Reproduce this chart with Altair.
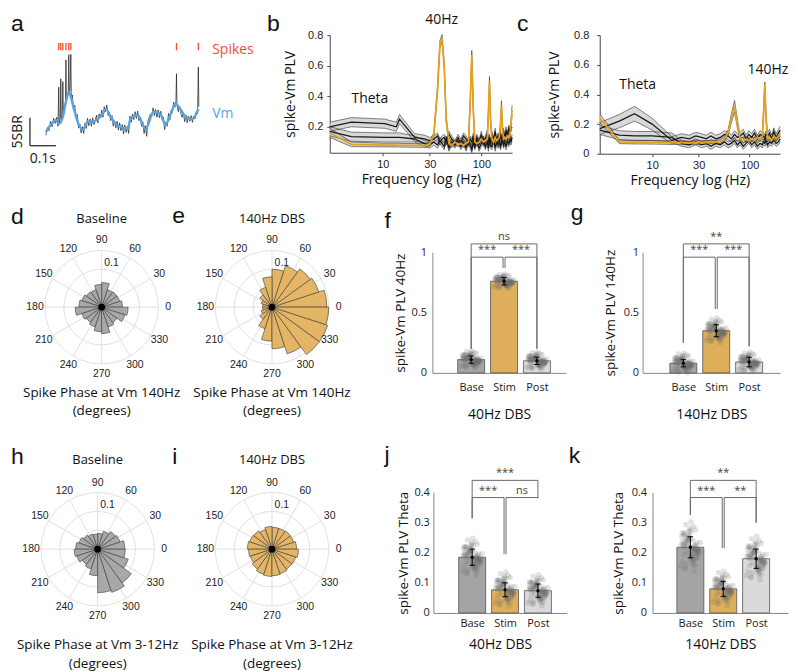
import altair as alt
import numpy as np
import pandas as pd

FT = "Open Sans"
FN = "Liberation Sans"
BLACK = "#1a1a1a"
BLUE = "#5aa2dc"
RED = "#f04e2e"
ORANGE = "#e9a11b"
GOLD = "#dfae5a"
GOLD_P = "#e3b565"
GRAY_P = "#a8a8a8"
BASE_C = "#a4a4a4"
POST_C = "#dadada"
BAND = "#c8c8c8"
GRID = "#dcdcdc"

# ---------------- panel a : example trace ----------------
vm_t = [0, 0.019, 0.039, 0.05, 0.066, 0.078, 0.089, 0.097, 0.109, 0.128,
        0.143, 0.163, 0.182, 0.202, 0.221, 0.233, 0.252, 0.271, 0.291, 0.318,
        0.329, 0.357, 0.388, 0.419, 0.446, 0.465, 0.484, 0.504, 0.523, 0.543,
        0.57, 0.593]
vm_v = [0, 1.25, 2.1, 1.4, 2.7, 5.4, 7.1, 6.25, 4.1, 1.25,
        0.36, 1.8, 1.8, 2.3, 3.2, 4.1, 2.7, 1.4, 0.9, 0.5,
        2.3, 3.0, 0.5, 3.6, 3.2, 1.25, 3.0, 5.0, 4.1, 2.7,
        2.3, 4.1]
raw_t = [0.000, 0.006, 0.012, 0.018, 0.024, 0.030, 0.036, 0.042, 0.047, 0.050,
         0.052, 0.056, 0.058, 0.060, 0.064, 0.066, 0.068, 0.072, 0.076, 0.078,
         0.080, 0.084, 0.087, 0.089, 0.091, 0.094, 0.097, 0.099, 0.103, 0.107,
         0.112, 0.117, 0.122, 0.127, 0.132, 0.137, 0.142, 0.147, 0.152, 0.157,
         0.162, 0.167, 0.172, 0.177, 0.182, 0.187, 0.192, 0.197, 0.202, 0.207,
         0.212, 0.217, 0.222, 0.227, 0.232, 0.237, 0.242, 0.247, 0.252, 0.257,
         0.262, 0.267, 0.272, 0.277, 0.282, 0.287, 0.292, 0.297, 0.302, 0.307,
         0.312, 0.317, 0.322, 0.327, 0.332, 0.337, 0.342, 0.347, 0.352, 0.357,
         0.362, 0.367, 0.372, 0.377, 0.382, 0.387, 0.392, 0.397, 0.402, 0.407,
         0.412, 0.417, 0.422, 0.427, 0.432, 0.437, 0.442, 0.447, 0.452, 0.457,
         0.462, 0.467, 0.472, 0.477, 0.482, 0.487, 0.492, 0.497, 0.502, 0.506,
         0.508, 0.510, 0.515, 0.520, 0.525, 0.530, 0.535, 0.540, 0.545, 0.550,
         0.555, 0.560, 0.565, 0.570, 0.575, 0.580, 0.585, 0.590, 0.593, 0.595]
raw_v = [-0.6, 0.8, 0.2, 1.9, 0.9, 2.4, 1.5, 2.6, 1.0, 8.0,
         1.6, 2.2, 9.5, 2.4, 3.0, 9.0, 3.3, 4.6, 5.2, 12.9,
         5.6, 6.4, 7.0, 13.8, 6.8, 7.6, 13.9, 5.9, 6.6, 4.0,
         4.8, 2.6, 3.1, 0.7, 1.4, -0.2, 0.9, -0.3, 1.5, 0.6,
         2.4, 1.1, 2.3, 1.0, 2.5, 1.3, 2.0, 3.0, 1.6, 3.2,
         2.5, 3.9, 2.6, 4.5, 3.6, 4.8, 2.9, 3.5, 2.0, 2.9,
         1.0, 2.0, 0.7, 1.9, 0.3, 1.6, 0.2, 1.3, -0.4, 1.2,
         -0.1, 1.0, -0.3, 2.8, 1.7, 3.2, 2.2, 3.6, 2.4, 3.7,
         2.0, 2.6, 1.0, 1.8, -0.3, 1.1, -0.8, 1.9, 2.6, 3.2,
         2.8, 4.3, 2.9, 4.0, 2.6, 3.9, 2.5, 3.7, 2.2, 2.6,
         0.4, 1.8, 1.0, 3.3, 2.1, 3.8, 3.5, 5.3, 4.4, 5.6,
         10.4, 4.8, 3.6, 4.6, 3.3, 2.6, 3.4, 1.8, 3.0, 1.6,
         2.8, 1.9, 2.9, 1.7, 2.8, 2.3, 3.6, 3.2, 11.6, 4.5]
spike_t = [0.05, 0.058, 0.066, 0.078, 0.089, 0.097, 0.508, 0.593]

# ---------------- panel b : 40Hz DBS spectrum ----------------
b_freq = [2.9, 4.8, 10.5, 13.7, 14.8, 21, 26.5, 30, 33, 36,
          38, 40, 42, 44, 47, 50, 54, 58, 62, 66,
          70, 74, 77, 80, 83, 86, 90, 95, 100, 105,
          110, 115, 118, 121, 124, 128, 133, 138, 143, 148,
          152, 156, 160, 164, 168, 173, 178, 184, 190, 196,
          200, 205]
b_stim = [0.16, 0.085, 0.08, 0.08, 0.079, 0.078, 0.077, 0.085, 0.15, 0.45,
          0.74, 0.78, 0.6, 0.25, 0.09, 0.08, 0.1, 0.085, 0.09, 0.08,
          0.09, 0.1, 0.35, 0.67, 0.3, 0.1, 0.09, 0.1, 0.12, 0.1,
          0.11, 0.12, 0.3, 0.5, 0.25, 0.12, 0.1, 0.13, 0.11, 0.12,
          0.13, 0.2, 0.34, 0.18, 0.12, 0.13, 0.12, 0.14, 0.13, 0.15,
          0.22, 0.31]
b_stim_hw = [0.03, 0.015, 0.012, 0.012, 0.012, 0.012, 0.012, 0.012, 0.015, 0.02,
             0.025, 0.025, 0.02, 0.02, 0.015, 0.015, 0.015, 0.015, 0.015, 0.015,
             0.015, 0.015, 0.02, 0.03, 0.02, 0.015, 0.015, 0.015, 0.015, 0.015,
             0.015, 0.015, 0.02, 0.03, 0.02, 0.015, 0.015, 0.015, 0.015, 0.015,
             0.015, 0.02, 0.03, 0.02, 0.015, 0.015, 0.015, 0.015, 0.015, 0.015,
             0.02, 0.03]
b_base = [0.2, 0.23, 0.22, 0.2, 0.25, 0.13, 0.12, 0.11, 0.12, 0.14,
          0.1, 0.12, 0.13, 0.1, 0.15, 0.12, 0.09, 0.13, 0.1, 0.14,
          0.12, 0.09, 0.12, 0.1, 0.14, 0.08, 0.13, 0.1, 0.15, 0.09,
          0.12, 0.16, 0.1, 0.13, 0.09, 0.15, 0.11, 0.17, 0.1, 0.14,
          0.12, 0.16, 0.1, 0.15, 0.17, 0.12, 0.18, 0.14, 0.19, 0.17,
          0.19, 0.2]
b_base_hw = [0.03] * 5 + [0.025] * 2 + [0.02] * 45
b_post = [0.17, 0.135, 0.13, 0.13, 0.13, 0.12, 0.09, 0.08, 0.1, 0.08,
          0.11, 0.09, 0.07, 0.12, 0.06, 0.1, 0.08, 0.11, 0.07, 0.1,
          0.06, 0.11, 0.08, 0.05, 0.1, 0.07, 0.11, 0.06, 0.09, 0.12,
          0.07, 0.1, 0.06, 0.11, 0.08, 0.07, 0.12, 0.06, 0.1, 0.08,
          0.11, 0.07, 0.09, 0.12, 0.08, 0.1, 0.07, 0.11, 0.09, 0.12,
          0.1, 0.13]
b_post_hw = [0.03] * 5 + [0.02] * 47

# ---------------- panel c : 140Hz DBS spectrum ----------------
c_freq = [2.9, 4.6, 6.6, 10, 15.9, 20, 24, 28, 32, 36,
          40, 45, 50, 55, 60, 65, 70, 75, 80, 86,
          92, 98, 105, 112, 120, 128, 135, 139, 143, 147,
          153, 160, 168, 177, 187, 197, 206]
c_stim = [0.24, 0.08, 0.078, 0.077, 0.075, 0.075, 0.072, 0.074, 0.076, 0.075,
          0.08, 0.078, 0.085, 0.1, 0.14, 0.24, 0.32, 0.2, 0.1, 0.09,
          0.1, 0.085, 0.1, 0.09, 0.11, 0.1, 0.12, 0.28, 0.47, 0.25,
          0.1, 0.11, 0.09, 0.12, 0.1, 0.12, 0.13]
c_stim_hw = [0.03, 0.012, 0.012, 0.012, 0.012, 0.012, 0.012, 0.012, 0.012, 0.012,
             0.012, 0.012, 0.015, 0.015, 0.02, 0.03, 0.04, 0.03, 0.015, 0.015,
             0.015, 0.015, 0.015, 0.015, 0.015, 0.015, 0.015, 0.03, 0.015, 0.03,
             0.015, 0.015, 0.015, 0.015, 0.015, 0.015, 0.015]
c_base = [0.17, 0.22, 0.27, 0.2, 0.09, 0.11, 0.1, 0.12, 0.11, 0.1,
          0.12, 0.1, 0.11, 0.13, 0.12, 0.1, 0.13, 0.11, 0.12, 0.14,
          0.1, 0.13, 0.11, 0.14, 0.1, 0.13, 0.12, 0.12, 0.1, 0.13,
          0.12, 0.14, 0.1, 0.15, 0.11, 0.14, 0.16]
c_base_hw = [0.04, 0.045, 0.05, 0.04] + [0.025] * 33
c_post = [0.16, 0.125, 0.12, 0.12, 0.11, 0.07, 0.06, 0.08, 0.06, 0.07,
          0.05, 0.07, 0.06, 0.08, 0.06, 0.07, 0.09, 0.06, 0.08, 0.05,
          0.07, 0.09, 0.06, 0.08, 0.05, 0.07, 0.06, 0.08, 0.07, 0.09,
          0.06, 0.08, 0.07, 0.09, 0.07, 0.08, 0.1]
c_post_hw = [0.03] * 5 + [0.02] * 32

# ---------------- polar histograms (20 bins of 18 deg) ----------------
bin_start = list(range(0, 360, 18))
d_vals = [0.055, 0.05, 0.05, 0.048, 0.065, 0.06, 0.048, 0.05, 0.055, 0.06,
          0.07, 0.055, 0.05, 0.055, 0.065, 0.07, 0.055, 0.05, 0.065, 0.07]
e_vals = [0.145, 0.13, 0.125, 0.115, 0.1, 0.08, 0.055, 0.04, 0.03, 0.025,
          0.025, 0.03, 0.04, 0.06, 0.09, 0.11, 0.13, 0.155, 0.155, 0.15]
h_vals = [0.072, 0.062, 0.058, 0.05, 0.042, 0.04, 0.042, 0.046, 0.052, 0.058,
          0.062, 0.058, 0.05, 0.055, 0.07, 0.115, 0.12, 0.11, 0.085, 0.073]
i_vals = [0.065, 0.06, 0.06, 0.058, 0.058, 0.06, 0.055, 0.06, 0.062, 0.065,
          0.062, 0.06, 0.065, 0.07, 0.072, 0.07, 0.068, 0.065, 0.066, 0.07]
ring_levels = [0.05, 0.1, 0.15]
angle_ticks = [0, 30, 60, 90, 120, 150, 180, 210, 240, 270, 300, 330]

# ---------------- bar panels ----------------
conds = ["Base", "Stim", "Post"]
f_mean = [0.11, 0.76, 0.10]
f_sd = [0.03, 0.03, 0.03]
f_spread = [0.035, 0.03, 0.035]
g_mean = [0.08, 0.35, 0.09]
g_sd = [0.03, 0.05, 0.04]
g_spread = [0.04, 0.05, 0.04]
j_mean = [0.185, 0.077, 0.074]
j_sd = [0.027, 0.023, 0.022]
j_spread = [0.03, 0.028, 0.025]
k_mean = [0.218, 0.08, 0.18]
k_sd = [0.035, 0.025, 0.032]
k_spread = [0.04, 0.028, 0.035]
# comparisons: (left x, right x, bracket level, left leg bottom, right leg bottom, label)
f_brackets = [(1, 1.97, 0.96, 0.2, 0.87, "***"), (2.03, 3, 0.96, 0.87, 0.2, "***"),
              (1, 3, 1.07, 0.2, 0.2, "ns")]
g_brackets = [(1, 1.97, 0.96, 0.25, 0.53, "***"), (2.03, 3, 0.96, 0.53, 0.22, "***"),
              (1, 3, 1.07, 0.25, 0.22, "**")]
j_brackets = [(1, 1.97, 0.383, 0.314, 0.195, "***"), (2.03, 3, 0.383, 0.195, 0.383, "ns"),
              (1, 3, 0.44, 0.314, 0.38, "***")]
k_brackets = [(1, 1.97, 0.383, 0.325, 0.215, "***"), (2.03, 3, 0.383, 0.215, 0.30, "**"),
              (1, 3, 0.44, 0.325, 0.30, "**")]
# scatter cloud pattern (normalised)
cloud_z = [0.1, -0.5, 1.2, -1.1, 0.4, 0.8, -0.2, -1.6, 1.7, 0.0,
           -0.7, 0.6, 2.1, -0.9, 0.3, -1.3, 1.0, -0.4, 0.2, -2.0,
           1.4, -0.1, 0.5, -0.8, 0.9, -1.5, 0.0, 1.1, -0.3, 0.7,
           -1.0, 1.9, -0.6, 0.35, -1.2, 0.15, 1.3, -0.25, -1.8, 0.55]
cloud_dx = [-0.12, 0.2, -0.25, 0.05, 0.3, -0.05, 0.15, -0.3, 0.1, -0.18,
            0.25, -0.08, 0.02, 0.18, -0.22, 0.08, -0.1, 0.28, -0.28, 0.12,
            -0.02, 0.22, -0.15, 0.06, -0.26, 0.16, 0.0, -0.2, 0.26, -0.06,
            0.1, -0.14, 0.04, 0.2, -0.24, 0.14, -0.04, 0.24, -0.16, 0.08]

ONE = pd.DataFrame({"k": [0]})


def letter_mark(letter, px, py):
    return alt.Chart(ONE).mark_text(text=letter, font=FN, fontSize=23, color="#111",
                                    align="left", baseline="alphabetic").encode(
        x=alt.value(px), y=alt.value(py))


def spacer(w, h):
    return alt.Chart(pd.DataFrame({"s": [0]})).mark_point(opacity=0).encode(
        x=alt.X("s:Q", axis=None), y=alt.Y("s:Q", axis=None)).properties(width=w, height=h)


def texts(rows, EX, EY, **kw):
    df = pd.DataFrame(rows, columns=["x", "y", "txt"])
    return alt.Chart(df).mark_text(**kw).encode(x=EX("x:Q"), y=EY("y:Q"), text="txt:N")


def panel_a(lx, ly):
    xs = alt.Scale(domain=[-0.097, 0.988], nice=False, zero=False)
    ys = alt.Scale(domain=[-3.93, 17.32], nice=False, zero=False)

    def EX(f):
        return alt.X(f, scale=xs, axis=None)

    def EY(f):
        return alt.Y(f, scale=ys, axis=None)

    raw = alt.Chart(pd.DataFrame({"t": raw_t, "v": raw_v})).mark_line(
        color=BLACK, strokeWidth=0.7).encode(x=EX("t:Q"), y=EY("v:Q"))
    vm = alt.Chart(pd.DataFrame({"t": vm_t, "v": vm_v})).mark_line(
        color=BLUE, strokeWidth=2.4, interpolate="monotone").encode(x=EX("t:Q"), y=EY("v:Q"))
    ticks = alt.Chart(pd.DataFrame({"t": spike_t})).transform_calculate(
        y0="14.6", y1="15.9").mark_rule(color=RED, strokeWidth=1.3).encode(
        x=EX("t:Q"), y=EY("y0:Q"), y2="y1:Q")
    sb = alt.Chart(pd.DataFrame({"x": [-0.062, -0.062], "x2": [-0.062, 0.039],
                                 "y": [-2.5, -2.5], "y2": [2.5, -2.5]})).mark_rule(
        color=BLACK, strokeWidth=1.2).encode(x=EX("x:Q"), x2="x2:Q", y=EY("y:Q"), y2="y2:Q")
    t1 = texts([(-0.11, 0.0, "5SBR")], EX, EY, angle=270, font=FT, fontSize=14, color=BLACK)
    t2 = texts([(-0.012, -4.8, "0.1s")], EX, EY, font=FT, fontSize=14, color=BLACK)
    t3 = texts([(0.647, 14.7, "Spikes")], EX, EY, align="left", font=FT, fontSize=14, color=RED)
    t4 = texts([(0.647, 3.1, "Vm")], EX, EY, align="left", font=FT, fontSize=14, color=BLUE)
    return alt.layer(raw, vm, ticks, sb, t1, t2, t3, t4, letter_mark("a", lx, ly)).properties(
        width=280, height=119)


def spectrum(freqs, base, base_hw, stim, stim_hw, post, post_hw, ydom, yticks, width, height,
             letter, lx, ly, notes, ylp, ytp):
    rows = []
    for cond, m, hw in [("Base", base, base_hw), ("Post", post, post_hw), ("Stim", stim, stim_hw)]:
        for fq, v, h in zip(freqs, m, hw):
            rows.append({"f": fq, "m": v, "lo": v - h, "hi": v + h, "cond": cond})
    df = pd.DataFrame(rows)
    xs = alt.Scale(type="log", domain=[2.9, 205], nice=False)
    ys = alt.Scale(domain=ydom, nice=False, zero=False)
    xax = alt.Axis(values=[10, 30, 100], format="d", title="Frequency log (Hz)", grid=False,
                   labelFont=FN, labelFontSize=11, labelColor="#222", titleFont=FT,
                   titleFontSize=14, titleFontWeight="normal", titleColor="#111",
                   domainColor="#444", tickColor="#444", tickSize=3, labelPadding=3,
                   titlePadding=3)
    yax = alt.Axis(values=yticks, format="~g", title="spike-Vm PLV", grid=False,
                   labelFont=FN, labelFontSize=11, labelColor="#222", titleFont=FT,
                   titleFontSize=14, titleFontWeight="normal", titleColor="#111",
                   domainColor="#444", tickColor="#444", tickSize=3, labelPadding=ylp,
                   titlePadding=ytp)

    def EX(fld):
        return alt.X(fld, scale=xs, axis=xax)

    def EY(fld):
        return alt.Y(fld, scale=ys, axis=yax)

    base_ch = alt.Chart(df)
    band = base_ch.mark_area(color=BAND, opacity=0.7).encode(
        x=EX("f:Q"), y=EY("lo:Q"), y2="hi:Q", detail="cond:N")
    e_lo = base_ch.mark_line(color="#333", strokeWidth=0.6).encode(x=EX("f:Q"), y=EY("lo:Q"), detail="cond:N")
    e_hi = base_ch.mark_line(color="#333", strokeWidth=0.6).encode(x=EX("f:Q"), y=EY("hi:Q"), detail="cond:N")
    m_blk = base_ch.transform_filter("datum.cond != 'Stim'").mark_line(
        color=BLACK, strokeWidth=1.3).encode(x=EX("f:Q"), y=EY("m:Q"), detail="cond:N")
    m_stim = base_ch.transform_filter("datum.cond == 'Stim'").mark_line(
        color=ORANGE, strokeWidth=1.7).encode(x=EX("f:Q"), y=EY("m:Q"))
    nt = texts(notes, EX, EY, font=FT, fontSize=14, color="#111")
    return alt.layer(band, e_lo, e_hi, m_blk, m_stim, nt, letter_mark(letter, lx, ly)).properties(
        width=width, height=height)


def polar(vals, fill, top, bot1, letter, left, right, above, below, top_off, b1_off, b2_off,
          lx, ly):
    k = 57 / 0.15
    xs = alt.Scale(domain=[-left / k, right / k], nice=False, zero=False)
    ys = alt.Scale(domain=[-below / k, above / k], nice=False, zero=False)
    ts = alt.Scale(domain=[0, 360], range=[0, 2 * np.pi])
    rs = alt.Scale(type="linear", domain=[0, 0.15], range=[0, 57])

    def EX(f):
        return alt.X(f, scale=xs, axis=None)

    def EY(f):
        return alt.Y(f, scale=ys, axis=None)

    rings = alt.Chart(pd.DataFrame({"r": ring_levels})).transform_calculate(
        cx="0", cy="0", t0="0", t1="360").mark_arc(
        fillOpacity=0, stroke=GRID, strokeWidth=0.9).encode(
        x=EX("cx:Q"), y=EY("cy:Q"), theta=alt.Theta("t0:Q", scale=ts),
        theta2="t1:Q", radius=alt.Radius("r:Q", scale=rs))
    spokes = alt.Chart(pd.DataFrame({"a": angle_ticks})).transform_calculate(
        cx="0", cy="0", ex="0.15*cos(datum.a*PI/180)", ey="0.15*sin(datum.a*PI/180)").mark_rule(
        color=GRID, strokeWidth=0.9).encode(x=EX("cx:Q"), y=EY("cy:Q"), x2="ex:Q", y2="ey:Q")
    bars = alt.Chart(pd.DataFrame({"a0": bin_start, "r": vals})).transform_calculate(
        cx="0", cy="0", th0="90 - (datum.a0 + 18)", th1="90 - datum.a0").mark_arc(
        fill=fill, stroke="#3a3a3a", strokeWidth=0.6).encode(
        x=EX("cx:Q"), y=EY("cy:Q"), theta=alt.Theta("th0:Q", scale=ts),
        theta2="th1:Q", radius=alt.Radius("r:Q", scale=rs))
    dot = alt.Chart(pd.DataFrame({"x": [0.0], "y": [0.0]})).mark_point(
        filled=True, size=45, color="black", opacity=1).encode(x=EX("x:Q"), y=EY("y:Q"))
    labs = alt.Chart(pd.DataFrame({"a": angle_ticks})).transform_calculate(
        lx="0.176*cos(datum.a*PI/180)", ly="0.176*sin(datum.a*PI/180)", lab="'' + datum.a").mark_text(
        font=FN, fontSize=10.5, color="#222").encode(x=EX("lx:Q"), y=EY("ly:Q"), text="lab:N")
    rlab = texts([(0.026, 0.116, "0.1")], EX, EY, font=FN, fontSize=10.5, color="#222")
    t_top = texts([(0.0, top_off / k, top)], EX, EY, font=FT, fontSize=13, color="#111")
    t_bot = texts([(0.0, -b1_off / k, bot1), (0.0, -b2_off / k, "(degrees)")], EX, EY,
                  font=FT, fontSize=13.5, color="#111")
    return alt.layer(rings, spokes, bars, dot, labs, rlab, t_top, t_bot,
                     letter_mark(letter, lx, ly)).properties(
        width=left + right, height=above + below)


def barpanel(means, sds, spreads, ymax, yticks, ytitle, xtitle, width, height, xdom, brackets,
             letter, lx, ly, ylp, ytp, xlp, xtp):
    df = pd.DataFrame({"c": [1, 2, 3], "name": conds, "m": means, "sd": sds})
    df["x0"] = df["c"] - 0.41
    df["x1"] = df["c"] + 0.41
    df["zero"] = 0.0
    df["lo"] = df["m"] - df["sd"]
    df["hi"] = df["m"] + df["sd"]
    df["cl"] = df["c"] - 0.08
    df["cr"] = df["c"] + 0.08
    cl_rows = []
    for ii in range(3):
        for z, d in zip(cloud_z, cloud_dx):
            cl_rows.append({"x": ii + 1 + d, "y": means[ii] + z * spreads[ii]})
        for z, d in zip(cloud_z, cloud_dx[::-1]):
            cl_rows.append({"x": ii + 1 + d * 0.8, "y": means[ii] - z * spreads[ii] * 0.8})
    cloud = pd.DataFrame(cl_rows)
    seg_rows, lab_rows = [], []
    for xl, xr, yt, ybl, ybr, lab in brackets:
        seg_rows.append({"x": xl, "x2": xr, "y": yt, "y2": yt})
        seg_rows.append({"x": xl, "x2": xl, "y": ybl, "y2": yt})
        seg_rows.append({"x": xr, "x2": xr, "y": ybr, "y2": yt})
        lab_rows.append({"x": (xl + xr) / 2, "y": yt, "lab": lab})
    segs = pd.DataFrame(seg_rows)
    labsdf = pd.DataFrame(lab_rows)

    xs = alt.Scale(domain=xdom, nice=False, zero=False)
    ys = alt.Scale(domain=[0, ymax], nice=False)
    xax = alt.Axis(values=[1, 2, 3],
                   labelExpr="datum.value == 1 ? 'Base' : (datum.value == 2 ? 'Stim' : 'Post')",
                   title=xtitle, grid=False, ticks=False, domainColor="#888",
                   labelFont=FT, labelFontSize=11, labelColor="#222", labelPadding=xlp,
                   titleFont=FT, titleFontSize=14, titleFontWeight="normal", titleColor="#111",
                   titlePadding=xtp)
    yax = alt.Axis(values=yticks, format="~g", title=ytitle, grid=False, ticks=False,
                   domainColor="#888", labelFont=FT, labelFontSize=11, labelColor="#222",
                   labelPadding=ylp, titleFont=FT, titleFontSize=13.5, titleFontWeight="normal",
                   titleColor="#111", titlePadding=ytp)

    def EX(fld):
        return alt.X(fld, scale=xs, axis=xax)

    def EY(fld):
        return alt.Y(fld, scale=ys, axis=yax)

    bar = alt.Chart(df).mark_bar(stroke="#555", strokeWidth=0.8).encode(
        x=EX("x0:Q"), x2="x1:Q", y=EY("m:Q"), y2="zero:Q",
        color=alt.Color("name:N", scale=alt.Scale(domain=conds, range=[BASE_C, GOLD, POST_C]),
                        legend=None))
    pts = alt.Chart(cloud).mark_circle(color="#6e6e6e", opacity=0.2, size=30).encode(
        x=EX("x:Q"), y=EY("y:Q"))
    eb = alt.Chart(df).mark_rule(color="black", strokeWidth=1).encode(x=EX("c:Q"), y=EY("lo:Q"), y2="hi:Q")
    cap_lo = alt.Chart(df).mark_rule(color="black", strokeWidth=1).encode(x=EX("cl:Q"), x2="cr:Q", y=EY("lo:Q"))
    cap_hi = alt.Chart(df).mark_rule(color="black", strokeWidth=1).encode(x=EX("cl:Q"), x2="cr:Q", y=EY("hi:Q"))
    mdot = alt.Chart(df).mark_point(filled=True, color="black", size=12, opacity=1).encode(
        x=EX("c:Q"), y=EY("m:Q"))
    br = alt.Chart(segs).mark_rule(color="#6a6a6a", strokeWidth=1).encode(
        x=EX("x:Q"), x2="x2:Q", y=EY("y:Q"), y2="y2:Q")
    bl = alt.Chart(labsdf).mark_text(font=FT, fontSize=11, color="#444", baseline="middle", dy=-7).encode(
        x=EX("x:Q"), y=EY("y:Q"), text="lab:N")
    return alt.layer(bar, pts, eb, cap_lo, cap_hi, mdot, br, bl,
                     letter_mark(letter, lx, ly)).properties(width=width, height=height)


a = panel_a(-10, -4)
b = spectrum(b_freq, b_base, b_base_hw, b_stim, b_stim_hw, b_post, b_post_hw,
             [0.03, 0.8], [0.2, 0.4, 0.6, 0.8], 183, 118, "b", -63, -4,
             [(7.4, 0.38, "Theta"), (39.5, 0.9, "40Hz")], 4, 10)
c = spectrum(c_freq, c_base, c_base_hw, c_stim, c_stim_hw, c_post, c_post_hw,
             [0, 0.8], [0, 0.2, 0.4, 0.6, 0.8], 181, 119, "c", -83, -4,
             [(7.1, 0.464, "Theta"), (154, 0.565, "140Hz")], 8, 12)

d = polar(d_vals, GRAY_P, "Baseline", "Spike Phase at Vm 140Hz", "d", 81, 84, 55, 66, 88, 86, 104, -10, -28)
e = polar(e_vals, GOLD_P, "140Hz DBS", "Spike Phase at Vm 140Hz", "e", 87, 83, 55, 66, 88, 86, 104, -13, -29)
f = barpanel(f_mean, f_sd, f_spread, 1.0, [0, 0.5, 1], "spike-Vm PLV  40Hz", "40Hz DBS", 134, 121,
             [-0.18, 3.88], f_brackets, "f", -48, -24, 6, 4, 9, 15)
g = barpanel(g_mean, g_sd, g_spread, 1.0, [0, 0.5, 1], "spike-Vm PLV 140Hz", "140Hz DBS", 138, 121,
             [-0.24, 3.94], g_brackets, "g", -72, -32, 4, 6, 9, 15)

h = polar(h_vals, GRAY_P, "Baseline", "Spike Phase at Vm 3-12Hz", "h", 77, 88, 57, 64, 90, 96, 115, -10, -29)
i = polar(i_vals, GOLD_P, "140Hz DBS", "Spike Phase at Vm 3-12Hz", "i", 87, 83, 57, 64, 90, 96, 115, -13, -29)
j = barpanel(j_mean, j_sd, j_spread, 0.4, [0, 0.1, 0.2, 0.3, 0.4], "spike-Vm PLV Theta", "40Hz DBS",
             134, 121, [-0.18, 3.88], j_brackets, "j", -49, -31, 4, 4, 5, 9)
k = barpanel(k_mean, k_sd, k_spread, 0.4, [0, 0.1, 0.2, 0.3, 0.4], "spike-Vm PLV Theta", "140Hz DBS",
             136, 121, [-0.15, 3.97], k_brackets, "k", -84, -30, 6, 6, 5, 9)

row1 = alt.hconcat(a, spacer(30, 119), b, spacer(88, 119), c, spacing=0, bounds="flush")
row2 = alt.hconcat(d, e, spacer(78, 121), f, spacer(77, 121), g, spacing=0, bounds="flush")
row3 = alt.hconcat(h, i, spacer(79, 121), j, spacer(86, 121), k, spacing=0, bounds="flush")

# with flush bounds the nested rows count as zero height, so the spacers carry row height + gap
chart = alt.vconcat(row1, spacer(10, 218), row2, spacer(10, 241), row3, spacing=0, bounds="flush").properties(
    padding={"left": 2, "top": 3, "right": 2, "bottom": 2}
).configure_view(stroke=None)

chart.save("out.html", embed_options={"renderer": "svg", "actions": False})
